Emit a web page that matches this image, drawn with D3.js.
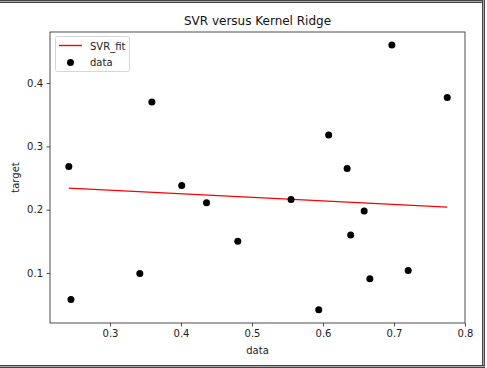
<!DOCTYPE html>
<html><head><meta charset="utf-8">
<script src="https://cdn.jsdelivr.net/npm/d3@7"></script>
<style>body{margin:0;background:#fff}svg{display:block}</style>
</head><body>
<script>
const dataX = [0.242,0.245,0.342,0.359,0.401,0.436,0.480,0.555,0.594,0.608,0.634,0.639,0.658,0.666,0.697,0.720,0.775];
const dataY = [0.268,0.058,0.099,0.370,0.238,0.211,0.150,0.216,0.042,0.318,0.265,0.160,0.198,0.091,0.460,0.104,0.377];
const fitX = [0.242, 0.775];
const fitY = [0.234, 0.204];
const xTicks = [0.3,0.4,0.5,0.6,0.7,0.8];
const yTicks = [0.1,0.2,0.3,0.4];

const W=487,H=368;
const L=50,R=465,T=32,B=323;
const svg=d3.select("body").append("svg").attr("width",W).attr("height",H);
const font="DejaVu Sans, sans-serif";

// outer frame
const fr=svg.append("g").attr("fill","none");
[[0.5,"#444"],[1.5,"#aaa"],[2.5,"#444"]].forEach(([o,c])=>{
  fr.append("line").attr("x1",0).attr("x2",W-2-o).attr("y1",o).attr("y2",o).attr("stroke",c);
});
[[482.5,"#444"],[483.5,"#aaa"],[484.5,"#444"]].forEach(([x,c])=>{
  fr.append("line").attr("x1",x).attr("x2",x).attr("y1",0).attr("y2",368).attr("stroke",c);
});
[[365.5,"#444"],[366.5,"#aaa"],[367.5,"#444"]].forEach(([y,c])=>{
  fr.append("line").attr("x1",0).attr("x2",485).attr("y1",y).attr("y2",y).attr("stroke",c);
});

const x=d3.scaleLinear().domain([0.2155,0.8]).range([L,R]);
const y=d3.scaleLinear().domain([0.021,0.4806]).range([B,T]);

// axes
const xa=svg.append("g").attr("transform",`translate(0,${B})`)
  .call(d3.axisBottom(x).tickValues(xTicks).tickSize(3.5).tickPadding(3.5).tickFormat(d3.format(".1f")));
const ya=svg.append("g").attr("transform",`translate(${L},0)`)
  .call(d3.axisLeft(y).tickValues(yTicks).tickSize(3.5).tickPadding(3.5).tickFormat(d3.format(".1f")));
[xa,ya].forEach(a=>{a.select(".domain").remove();a.selectAll("text").attr("font-family",font).attr("font-size",10).attr("fill","#222");a.selectAll("line").attr("stroke","#222").attr("stroke-width",0.8);});

// spines
svg.append("rect").attr("x",L).attr("y",T).attr("width",R-L).attr("height",B-T)
  .attr("fill","none").attr("stroke","#222").attr("stroke-width",0.8);

// fit line
svg.append("path").datum(fitX.map((d,i)=>[d,fitY[i]]))
  .attr("d",d3.line().x(d=>x(d[0])).y(d=>y(d[1])))
  .attr("fill","none").attr("stroke","#ff0000").attr("stroke-width",1.4);

// points
svg.append("g").selectAll("circle").data(dataX.map((d,i)=>[d,dataY[i]])).join("circle")
  .attr("cx",d=>x(d[0])).attr("cy",d=>y(d[1])).attr("r",3.5).attr("fill","#000");

// title & labels
svg.append("text").attr("x",(L+R)/2).attr("y",25).attr("text-anchor","middle")
  .attr("font-family",font).attr("font-size",12).attr("fill","#111").text("SVR versus Kernel Ridge");
svg.append("text").attr("x",(L+R)/2).attr("y",354).attr("text-anchor","middle")
  .attr("font-family",font).attr("font-size",10).attr("fill","#222").text("data");
svg.append("text").attr("transform",`translate(19,${(T+B)/2}) rotate(-90)`).attr("text-anchor","middle")
  .attr("font-family",font).attr("font-size",10).attr("fill","#222").text("target");

// legend
const lg=svg.append("g");
lg.append("rect").attr("x",55.5).attr("y",36.5).attr("width",74).attr("height",35).attr("rx",2)
  .attr("fill","#fff").attr("fill-opacity",0.8).attr("stroke","#ccc").attr("stroke-width",0.8);
lg.append("line").attr("x1",59).attr("x2",82).attr("y1",45.5).attr("y2",45.5).attr("stroke","#ff0000").attr("stroke-width",1.4);
lg.append("circle").attr("cx",70.5).attr("cy",62.5).attr("r",3.5).attr("fill","#000");
lg.append("text").attr("x",90).attr("y",49.5).attr("font-family",font).attr("font-size",10).attr("fill","#222").text("SVR_fit");
lg.append("text").attr("x",90).attr("y",66).attr("font-family",font).attr("font-size",10).attr("fill","#222").text("data");
</script>
</body></html>
